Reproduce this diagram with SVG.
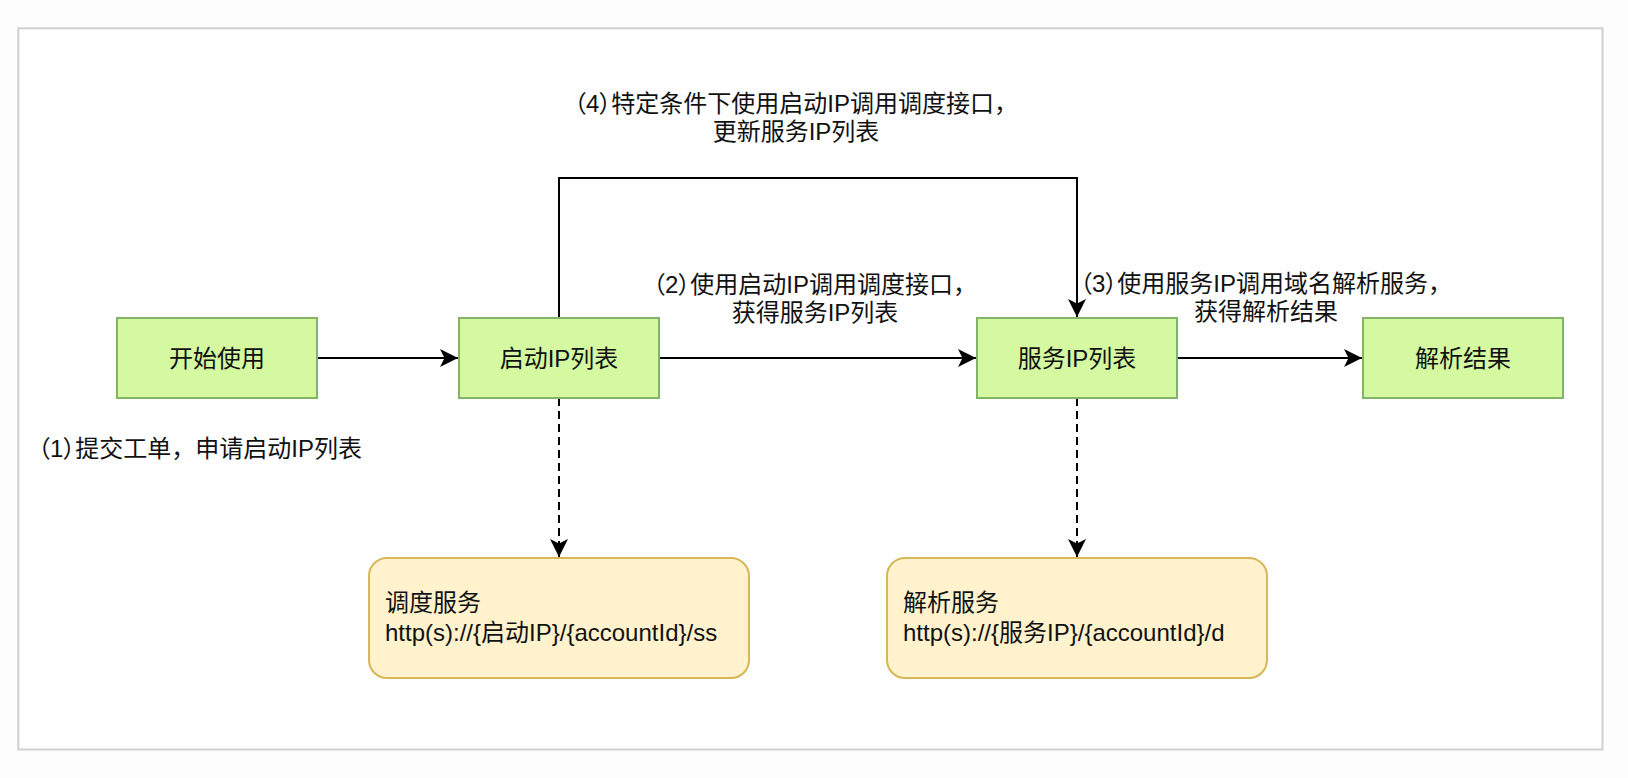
<svg xmlns="http://www.w3.org/2000/svg" width="1628" height="778" viewBox="0 0 1628 778">
<defs>
<style>
.t{font-family:"Liberation Sans","Noto Sans CJK SC",sans-serif;font-size:24px;fill:#111}
.p{font-feature-settings:"palt"}
.c{text-anchor:middle}
.g{fill:#d4f9a1;stroke:#82b366;stroke-width:2}
.y{fill:#fff2cc;stroke:#d6b656;stroke-width:2}
.e{fill:none;stroke:#000;stroke-width:2}
.d{stroke-dasharray:8 5}
</style>
<marker id="ah" markerUnits="userSpaceOnUse" markerWidth="20" markerHeight="20" viewBox="-19 -10 20 20" refX="0" refY="0" orient="auto">
<path d="M0,0 L-18,-9 L-13.5,0 L-18,9 Z" fill="#000"/>
</marker>
</defs>
<rect x="0" y="0" width="1628" height="778" fill="#fdfdfd"/>
<rect x="18.3" y="28.3" width="1584.2" height="721.2" fill="#fefefe" stroke="#d0d0d0" stroke-width="2"/>
<g id="connectors">
<path class="e" d="M317,358 L458,358" marker-end="url(#ah)"/>
<path class="e" d="M659,358 L976,358" marker-end="url(#ah)"/>
<path class="e" d="M1177,358 L1362,358" marker-end="url(#ah)"/>
<path class="e" d="M559,318 L559,178 L1077,178 L1077,317" marker-end="url(#ah)"/>
<path class="e d" d="M559,398 L559,557" marker-end="url(#ah)"/>
<path class="e d" d="M1077,398 L1077,557" marker-end="url(#ah)"/>
</g>
<g id="label-4">
<text class="t c" x="796" y="112"><tspan class="p">（4）</tspan>特定条件下使用启动IP调用调度接口，</text>
<text class="t c" x="796" y="140">更新服务IP列表</text>
</g>
<g id="label-2">
<text class="t c" x="815" y="292.5"><tspan class="p">（2）</tspan>使用启动IP调用调度接口，</text>
<text class="t c" x="815" y="320.5">获得服务IP列表</text>
</g>
<g id="label-3">
<text class="t c" x="1266" y="292"><tspan class="p">（3）</tspan>使用服务IP调用域名解析服务，</text>
<text class="t c" x="1266" y="320">获得解析结果</text>
</g>
<g id="label-1">
<text class="t" x="38" y="457"><tspan class="p">（1）</tspan>提交工单，申请启动IP列表</text>
</g>
<g id="node-start">
<rect class="g" x="117" y="318" width="200" height="80"/>
<text class="t c" x="217" y="366.5">开始使用</text>
</g>
<g id="node-boot">
<rect class="g" x="459" y="318" width="200" height="80"/>
<text class="t c" x="559" y="366.5">启动IP列表</text>
</g>
<g id="node-service">
<rect class="g" x="977" y="318" width="200" height="80"/>
<text class="t c" x="1077" y="366.5">服务IP列表</text>
</g>
<g id="node-result">
<rect class="g" x="1363" y="318" width="200" height="80"/>
<text class="t c" x="1463" y="366.5">解析结果</text>
</g>
<g id="node-schedule">
<rect class="y" x="369" y="558" width="380" height="120" rx="18" ry="18"/>
<text class="t" x="385" y="611">调度服务</text>
<text class="t" x="385" y="641">http(s)://{启动IP}/{accountId}/ss</text>
</g>
<g id="node-resolve">
<rect class="y" x="887" y="558" width="380" height="120" rx="18" ry="18"/>
<text class="t" x="903" y="611">解析服务</text>
<text class="t" x="903" y="641">http(s)://{服务IP}/{accountId}/d</text>
</g>
</svg>
